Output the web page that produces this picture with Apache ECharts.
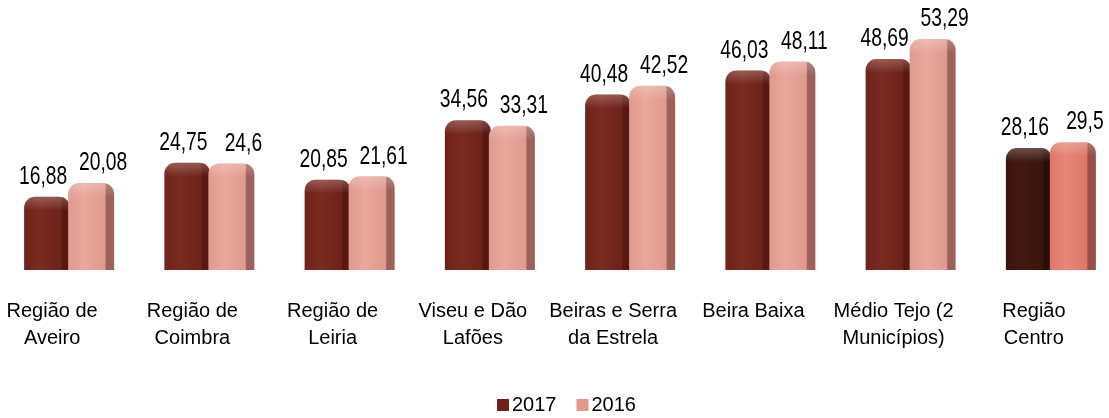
<!DOCTYPE html>
<html>
<head>
<meta charset="utf-8">
<script src="https://cdn.jsdelivr.net/npm/echarts@6/dist/echarts.min.js"></script>
<style>
html, body { margin: 0; padding: 0; background: #fff; }
#chart { width: 1109px; height: 418px; }
</style>
</head>
<body>
<div id="chart"></div>
<script>
const categories = ["Região de\nAveiro", "Região de\nCoimbra", "Região de\nLeiria", "Viseu e Dão\nLafões",
  "Beiras e Serra\nda Estrela", "Beira Baixa", "Médio Tejo (2\nMunicípios)", "Região\nCentro"];
const values2017 = [16.88, 24.75, 20.85, 34.56, 40.48, 46.03, 48.69, 28.16];
const values2016 = [20.08, 24.6, 21.61, 33.31, 42.52, 48.11, 53.29, 29.5];

const FONT = "'Liberation Sans', Arial, sans-serif";
const BAR_W = 46;

// colours: front, highlight, side
const pal2017 = ["#6e2219", "#7a2a20", "#561810"];
const pal2016 = ["#e09a8e", "#eaa79c", "#9c625a"];
const palC2017 = ["#3a1410", "#44190f", "#2a0d09"];
const palC2016 = ["#dc7767", "#e6877a", "#955048"];

const body = p => new echarts.graphic.LinearGradient(0, 0, 1, 0, [
  { offset: 0, color: p[0] },
  { offset: 0.35, color: p[1] },
  { offset: 0.8, color: p[0] },
  { offset: 0.83, color: p[2] },
  { offset: 1, color: p[2] }
]);

// 3d-looking column: shaded body plus a light bevel on top
const barSeries = (name, vals, left, pal, palLast) => ({
  name: name,
  type: "custom",
  itemStyle: { color: pal[0] },
  data: vals.map((v, i) => [i, v]),
  renderItem: (params, api) => {
    const i = api.value(0);
    const top = api.coord([i, api.value(1)]);
    const base = api.coord([i, 0]);
    const x0 = left ? top[0] - BAR_W + 1 : top[0] - 1;
    const p = i === vals.length - 1 ? palLast : pal;
    return {
      type: "group",
      children: [
        {
          type: "rect",
          shape: { x: x0, y: top[1], width: BAR_W, height: base[1] - top[1], r: [11, 11, 0, 0] },
          style: { fill: body(p) }
        },
        {
          type: "rect",
          shape: { x: x0, y: top[1], width: BAR_W, height: 14, r: [11, 11, 0, 0] },
          style: {
            fill: new echarts.graphic.LinearGradient(0, 0, 0, 1, [
              { offset: 0, color: "rgba(255,255,255,0.24)" },
              { offset: 0.6, color: "rgba(255,255,255,0.1)" },
              { offset: 1, color: "rgba(255,255,255,0)" }
            ])
          }
        }
      ]
    };
  }
});

// value labels drawn as narrow text (the original uses a condensed face)
const labelSeries = (vals, dx) => ({
  type: "custom",
  silent: true,
  data: vals.map((v, i) => [i, v]),
  renderItem: (params, api) => {
    const pt = api.coord([api.value(0), api.value(1)]);
    return {
      type: "text",
      x: pt[0] + dx,
      y: pt[1] - 7,
      scaleX: 0.74,
      style: {
        text: String(api.value(1)).replace(".", ","),
        fontFamily: FONT,
        fontSize: 26,
        fill: "#000",
        align: "center",
        verticalAlign: "bottom"
      }
    };
  },
  z: 5
});

const chart = echarts.init(document.getElementById("chart"));
chart.setOption({
  animation: false,
  grid: { left: -1, width: 1122, top: 10, bottom: 148, outerBoundsMode: "none", containLabel: false },
  legend: {
    bottom: 3,
    left: 497,
    padding: 0,
    itemWidth: 12,
    itemHeight: 12,
    itemGap: 20,
    icon: "rect",
    textStyle: { fontFamily: FONT, fontSize: 20, lineHeight: 20, color: "#000", padding: [0, 0, 0, -2] },
    data: [
      { name: "2017", itemStyle: { color: "#6e2219" } },
      { name: "2016", itemStyle: { color: "#e09a8e" } }
    ]
  },
  xAxis: {
    type: "category",
    data: categories,
    axisLine: { show: false },
    axisTick: { show: false },
    axisLabel: {
      interval: 0,
      margin: 28,
      padding: [0, 34, 0, 0],
      color: "#000",
      fontFamily: FONT,
      fontSize: 20,
      lineHeight: 27
    }
  },
  yAxis: {
    type: "value",
    min: 0,
    max: 60,
    show: false,
    splitLine: { show: false }
  },
  series: [
    barSeries("2017", values2017, true, pal2017, palC2017),
    barSeries("2016", values2016, false, pal2016, palC2016),
    labelSeries(values2017, -26),
    labelSeries(values2016, 34)
  ]
});
</script>
</body>
</html>
